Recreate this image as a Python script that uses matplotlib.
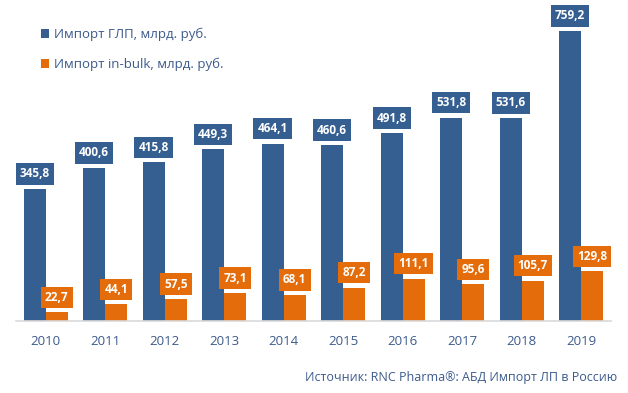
import numpy as np
import matplotlib.pyplot as plt

plt.rcParams['font.family'] = ['Open Sans', 'DejaVu Sans']

years = ['2010', '2011', '2012', '2013', '2014', '2015', '2016', '2017', '2018', '2019']
glp = [345.8, 400.6, 415.8, 449.3, 464.1, 460.6, 491.8, 531.8, 531.6, 759.2]
bulk = [22.7, 44.1, 57.5, 73.1, 68.1, 87.2, 111.1, 95.6, 105.7, 129.8]

blue = '#365f91'
orange = '#e46c0a'
txt = '#3c5a8c'

fig = plt.figure(figsize=(6.28, 3.93), dpi=100)
ax = fig.add_axes([16 / 628, 72 / 393, 595 / 628, 311 / 393])

x = np.arange(len(years))
w = 0.37
b1 = ax.bar(x - w / 2, glp, w, color=blue, label='Импорт ГЛП, млрд. руб.')
b2 = ax.bar(x + w / 2, bulk, w, color=orange, label='Импорт in-bulk, млрд. руб.')

def fmt(v):
    return f'{v:.1f}'.replace('.', ',')

for xs, vals, c in [(x - w / 2, glp, blue), (x + w / 2, bulk, orange)]:
    for xi, v in zip(xs, vals):
        ax.annotate(fmt(v), (xi, v), xytext=(0, 15), textcoords='offset pixels',
                    ha='center', va='center', color='white', fontsize=8.5, fontweight='bold',
                    bbox=dict(boxstyle='square,pad=0.35', fc=c, ec='none'))

ax.set_xlim(-0.5, 9.5)
ax.set_ylim(0, 814)
ax.set_xticks(x)
ax.set_xticklabels(years, color=txt, fontsize=9.5)
ax.tick_params(axis='x', length=0, pad=10)
ax.set_yticks([])
for s in ['top', 'right', 'left']:
    ax.spines[s].set_visible(False)
ax.spines['bottom'].set_color('#d9d9d9')
ax.spines['bottom'].set_linewidth(1.2)

leg = fig.legend(handles=[b1, b2], loc='upper left', bbox_to_anchor=(29 / 628, 1 - 16 / 393),
                 frameon=False, fontsize=9.5, handlelength=0.6, handleheight=0.6,
                 handletextpad=0.4, labelspacing=1.25)
for t in leg.get_texts():
    t.set_color(txt)

fig.text(617 / 628, 1 - 378 / 393, 'Источник: RNC Pharma®: АБД Импорт ЛП в Россию',
         ha='right', va='center', color=txt, fontsize=9)

fig.savefig('out.png', dpi=100)
